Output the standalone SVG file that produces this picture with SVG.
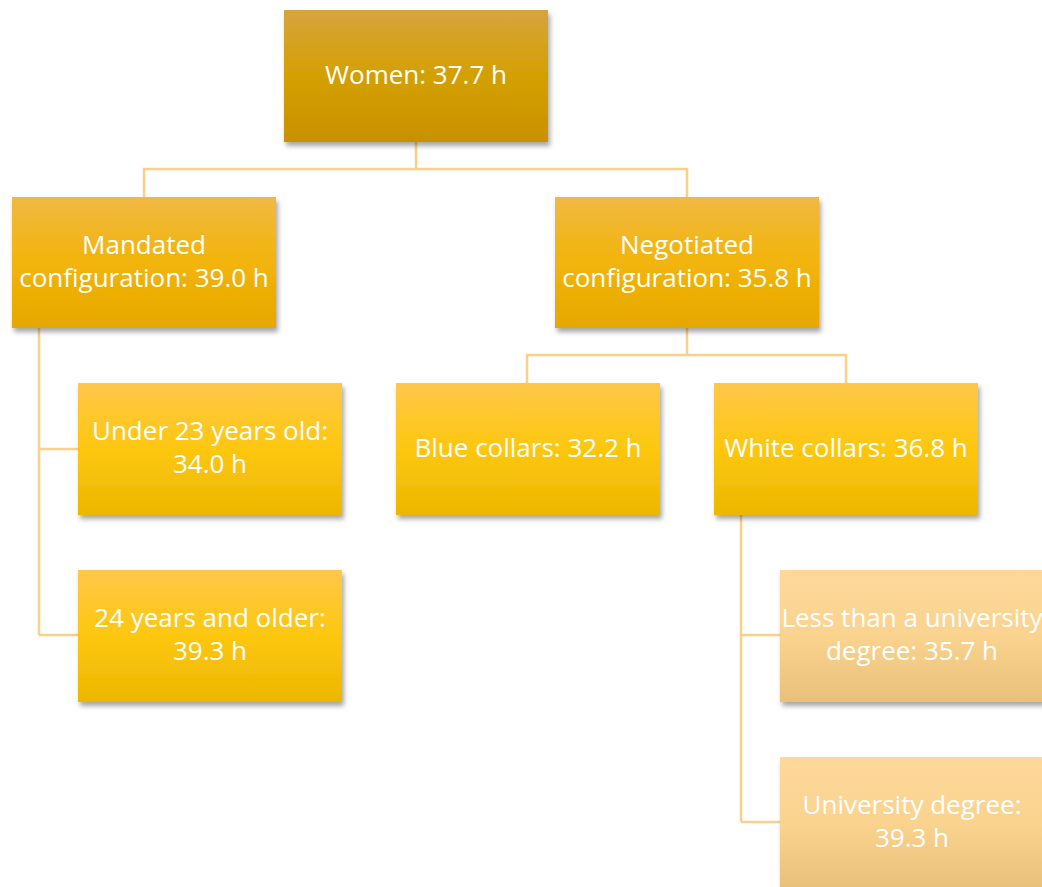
<svg xmlns="http://www.w3.org/2000/svg" width="1042" height="887" viewBox="0 0 1042 887">
<style>
.t{font-family:"Open Sans","Lato",sans-serif;font-size:26px;fill:#ffffff;text-anchor:middle}
.c{fill:none;stroke:#FDD088;stroke-width:2.5}
</style>
<defs>
<filter id="sh" x="-10%" y="-10%" width="125%" height="130%">
<feDropShadow dx="2" dy="4" stdDeviation="2.5" flood-color="#000" flood-opacity="0.35"/>
</filter>
<linearGradient id="g1" x1="0" y1="0" x2="0" y2="1">
<stop offset="0" stop-color="#D6A43E"/><stop offset="0.5" stop-color="#D4A002"/><stop offset="1" stop-color="#C99100"/>
</linearGradient>
<linearGradient id="g2" x1="0" y1="0" x2="0" y2="1">
<stop offset="0" stop-color="#F0B944"/><stop offset="0.5" stop-color="#F2B409"/><stop offset="1" stop-color="#E6A800"/>
</linearGradient>
<linearGradient id="g3" x1="0" y1="0" x2="0" y2="1">
<stop offset="0" stop-color="#FFC74A"/><stop offset="0.5" stop-color="#FDC70F"/><stop offset="1" stop-color="#ECB700"/>
</linearGradient>
<linearGradient id="g4" x1="0" y1="0" x2="0" y2="1">
<stop offset="0" stop-color="#FDD89A"/><stop offset="0.5" stop-color="#FAD38F"/><stop offset="1" stop-color="#E8C07A"/>
</linearGradient>
</defs>
<g id="connectors">
<path class="c" d="M416 142 V169 M144 197 V169 H687 V197"/>
<path class="c" d="M39 328 V635 M39 449 H78 M39 635 H78"/>
<path class="c" d="M687 328 V355 M527 383 V355 H846 V383"/>
<path class="c" d="M741 515 V822 M741 635 H780 M741 822 H780"/>
</g>
<g id="n-women"><rect x="284" y="10" width="264" height="132" fill="url(#g1)" filter="url(#sh)"/><text class="t" x="416" y="84">Women: 37.7 h</text></g>
<g id="n-mandated"><rect x="12" y="197" width="264" height="131" fill="url(#g2)" filter="url(#sh)"/><text class="t" x="144" y="254">Mandated</text><text class="t" x="144" y="287">configuration: 39.0 h</text></g>
<g id="n-negotiated"><rect x="555" y="197" width="264" height="131" fill="url(#g2)" filter="url(#sh)"/><text class="t" x="687" y="254">Negotiated</text><text class="t" x="687" y="287">configuration: 35.8 h</text></g>
<g id="n-under23"><rect x="78" y="383" width="264" height="132" fill="url(#g3)" filter="url(#sh)"/><text class="t" x="210" y="440">Under 23 years old:</text><text class="t" x="210" y="473">34.0 h</text></g>
<g id="n-blue"><rect x="396" y="383" width="264" height="132" fill="url(#g3)" filter="url(#sh)"/><text class="t" x="528" y="457">Blue collars: 32.2 h</text></g>
<g id="n-white"><rect x="714" y="383" width="264" height="132" fill="url(#g3)" filter="url(#sh)"/><text class="t" x="846" y="457">White collars: 36.8 h</text></g>
<g id="n-24older"><rect x="78" y="570" width="264" height="132" fill="url(#g3)" filter="url(#sh)"/><text class="t" x="210" y="627">24 years and older:</text><text class="t" x="210" y="660">39.3 h</text></g>
<g id="n-lessuni"><rect x="780" y="570" width="264" height="132" fill="url(#g4)" filter="url(#sh)"/><text class="t" x="912" y="627">Less than a university</text><text class="t" x="912" y="660">degree: 35.7 h</text></g>
<g id="n-uni"><rect x="780" y="757" width="264" height="132" fill="url(#g4)" filter="url(#sh)"/><text class="t" x="912" y="814">University degree:</text><text class="t" x="912" y="847">39.3 h</text></g>
</svg>
